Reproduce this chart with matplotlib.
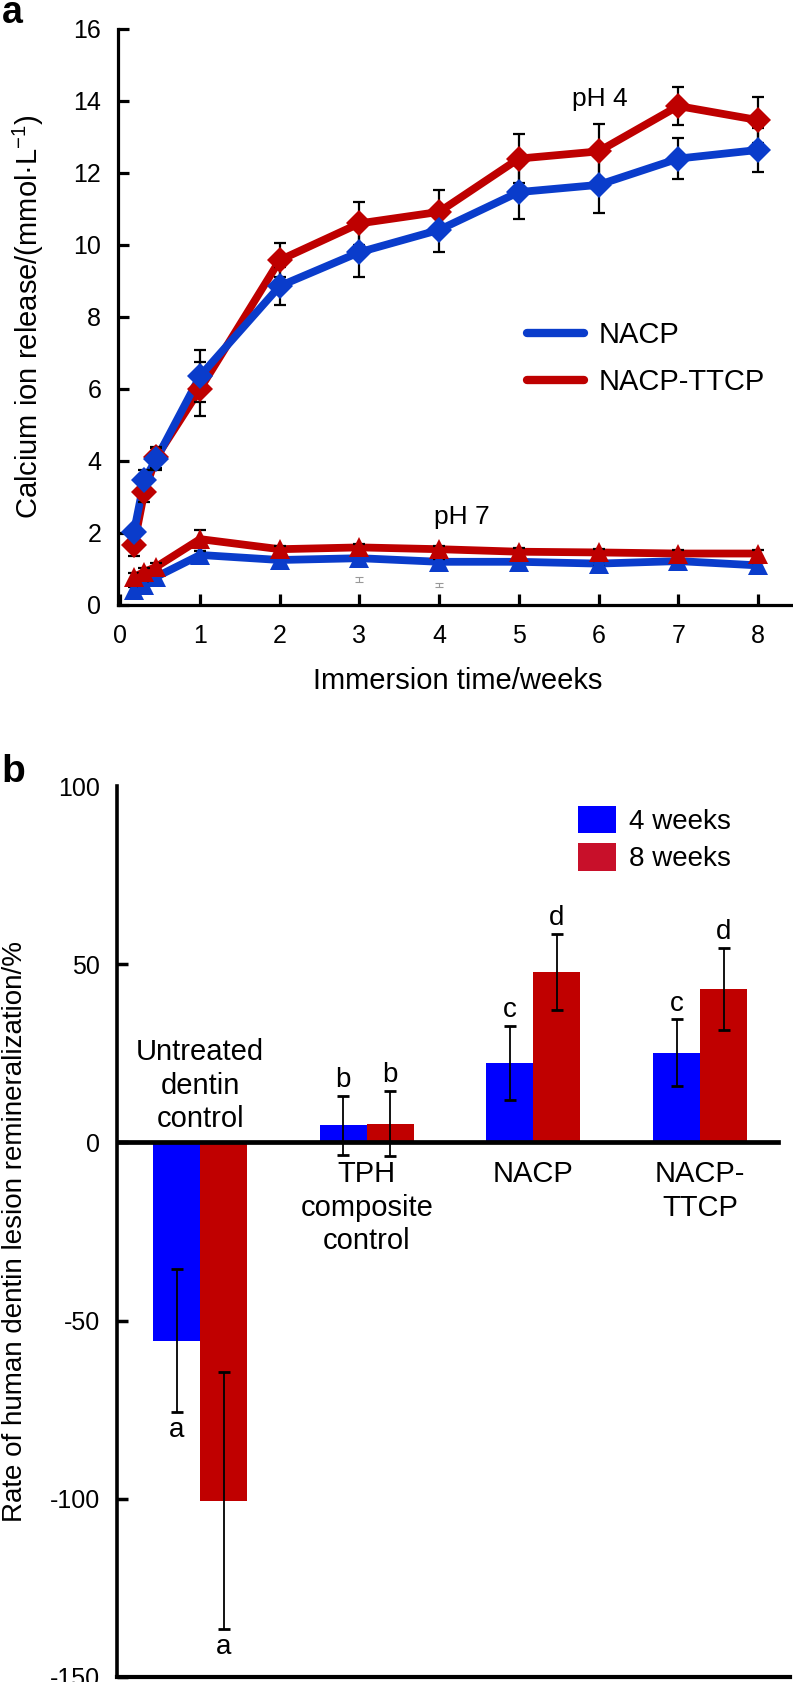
import matplotlib
matplotlib.use('Agg')
import matplotlib.pyplot as plt
from matplotlib.lines import Line2D
from matplotlib.patches import Patch
import numpy as np

plt.rcParams['font.family'] = ['Liberation Sans', 'DejaVu Sans']
plt.rcParams['mathtext.fontset'] = 'custom'
plt.rcParams['mathtext.rm'] = 'Liberation Sans'
plt.rcParams['mathtext.it'] = 'Liberation Sans:italic'
plt.rcParams['mathtext.default'] = 'rm'
plt.rcParams['axes.unicode_minus'] = False

# ---------------- Panel a data ----------------
weeks = [0.17, 0.3, 0.45, 1, 2, 3, 4, 5, 6, 7, 8]
nacp_ph4 = [2.03, 3.47, 4.05, 6.36, 8.86, 9.8, 10.42, 11.47, 11.67, 12.4, 12.64]
nacp_ph4_err = [0.15, 0.28, 0.3, 0.72, 0.54, 0.7, 0.62, 0.74, 0.79, 0.57, 0.61]
ttcp_ph4 = [1.67, 3.14, 4.1, 6.0, 9.58, 10.6, 10.92, 12.4, 12.6, 13.86, 13.47]
ttcp_ph4_err = [0.3, 0.28, 0.3, 0.75, 0.47, 0.6, 0.61, 0.67, 0.76, 0.54, 0.65]
nacp_ph7 = [0.42, 0.55, 0.78, 1.39, 1.25, 1.3, 1.2, 1.2, 1.15, 1.22, 1.1]
nacp_ph7_err = [0.08, 0.08, 0.1, 0.1, 0.08, 0.08, 0.08, 0.08, 0.08, 0.08, 0.08]
ttcp_ph7 = [0.78, 0.92, 1.06, 1.83, 1.55, 1.6, 1.55, 1.48, 1.46, 1.43, 1.43]
ttcp_ph7_err = [0.1, 0.1, 0.1, 0.25, 0.1, 0.1, 0.1, 0.1, 0.1, 0.1, 0.1]
stray_x = [3, 4]
stray_y = [0.7, 0.55]
stray_err = [0.07, 0.05]
line_labels = ['NACP', 'NACP-TTCP']

# ---------------- Panel b data ----------------
groups = ['Untreated\ndentin\ncontrol', 'TPH\ncomposite\ncontrol', 'NACP', 'NACP-\nTTCP']
w4 = [-55.6, 4.8, 22.3, 25.1]
w4_err = [20.0, 8.3, 10.3, 9.4]
w8 = [-100.5, 5.3, 47.8, 43.0]
w8_err = [36.0, 9.2, 10.6, 11.5]
w4_letters = ['a', 'b', 'c', 'c']
w8_letters = ['a', 'b', 'd', 'd']
bar_labels = ['4 weeks', '8 weeks']

BLUE_L = '#0A3CCB'
RED_L = '#BE0000'
BLUE_B = '#0000FF'
RED_B = '#C00000'

W, H = 793, 1682
fig = plt.figure(figsize=(W / 100, H / 100), dpi=100)

# ================= Panel a =================
ax1 = fig.add_axes([118 / W, 1 - 605 / H, 675 / W, 576 / H])
ax1.set_xlim(-0.03, 8.44)
ax1.set_ylim(0, 16)
for s in ['top', 'right']:
    ax1.spines[s].set_visible(False)
for s in ['left', 'bottom']:
    ax1.spines[s].set_linewidth(2.3)

series = [
    (ttcp_ph4, ttcp_ph4_err, RED_L, 'D'),
    (nacp_ph4, nacp_ph4_err, BLUE_L, 'D'),
    (nacp_ph7, nacp_ph7_err, BLUE_L, '^'),
    (ttcp_ph7, ttcp_ph7_err, RED_L, '^'),
]
for i, (y, e, c, m) in enumerate(series):
    ax1.plot(weeks, y, color=c, lw=5.6, zorder=2 + i * 0.01, solid_capstyle='round',
             solid_joinstyle='round')
    ax1.errorbar(weeks, y, yerr=e, fmt='none', ecolor='black', elinewidth=1.6,
                 capsize=4.5, capthick=1.6, zorder=3)
    ms = 13 if m == 'D' else 15
    ax1.plot(weeks, y, linestyle='none', marker=m, ms=ms, color=c,
             markeredgewidth=0, zorder=4 + i * 0.01)

ax1.errorbar(stray_x, stray_y, yerr=stray_err, fmt='none', ecolor='#999999',
             elinewidth=0.8, capsize=3, capthick=0.8, zorder=3)

ax1.set_xticks(range(0, 9))
ax1.set_yticks(range(0, 17, 2))
ax1.tick_params(axis='both', direction='in', length=8, width=2.3, labelsize=18)
ax1.tick_params(axis='x', pad=14)
ax1.tick_params(axis='y', pad=12)

ax1.text(6.02, 14.05, 'pH 4', ha='center', va='center', fontsize=19)
ax1.text(4.28, 2.44, 'pH 7', ha='center', va='center', fontsize=19)

handles = [Line2D([], [], color=BLUE_L, lw=6, solid_capstyle='round'),
           Line2D([], [], color=RED_L, lw=6, solid_capstyle='round')]
ax1.legend(handles, line_labels, loc='upper left', bbox_to_anchor=(0.606, 0.493),
           frameon=False, fontsize=21, handlelength=1.95, handletextpad=0.5,
           labelspacing=0.65, borderpad=0, borderaxespad=0)

fig.text(28 / W, 1 - 317 / H, r'Calcium ion release/(mmol·L$^{-1}$)', rotation=90,
         ha='center', va='center', fontsize=21)
fig.text(458 / W, 1 - 681 / H, 'Immersion time/weeks', ha='center', va='center',
         fontsize=21)
fig.text(0.002, 1 - 23 / H, 'a', fontsize=27, fontweight='bold', ha='left',
         va='baseline')

# ================= Panel b =================
ax2 = fig.add_axes([117 / W, 1 - 1677 / H, 673 / W, 891 / H])
ax2.set_xlim(0.5, 4.54)
ax2.set_ylim(-150, 100)
for s in ['top', 'right']:
    ax2.spines[s].set_visible(False)
ax2.spines['left'].set_linewidth(2.6)
ax2.spines['bottom'].set_linewidth(3.0)

x = np.arange(1, len(groups) + 1)
bw = 0.282
ax2.bar(x - bw / 2, w4, width=bw, color=BLUE_B, linewidth=0, zorder=2)
ax2.bar(x + bw / 2, w8, width=bw, color=RED_B, linewidth=0, zorder=2)
ax2.errorbar(x - bw / 2, w4, yerr=w4_err, fmt='none', ecolor='black', elinewidth=1.3,
             capsize=4, capthick=2, zorder=4)
ax2.errorbar(x + bw / 2, w8, yerr=w8_err, fmt='none', ecolor='black', elinewidth=1.3,
             capsize=4, capthick=2, zorder=4)
ax2.axhline(0, xmin=0, xmax=(778 - 117) / 673, color='black', lw=3.4, zorder=5)

for xs, vals, errs, lets in [(x - bw / 2, w4, w4_err, w4_letters),
                             (x + bw / 2, w8, w8_err, w8_letters)]:
    for xi, v, e, l in zip(xs, vals, errs, lets):
        if v >= 0:
            ax2.annotate(l, (xi, v + e), xytext=(0, 2), textcoords='offset points',
                         ha='center', va='bottom', fontsize=20)
        else:
            ax2.annotate(l, (xi, v - e), xytext=(0, -4), textcoords='offset points',
                         ha='center', va='top', fontsize=20)

for xi, g, v in zip(x, groups, w4):
    if v < 0:
        ax2.annotate(g, (xi, 0), xytext=(0, 6.5), textcoords='offset points',
                     ha='center', va='bottom', fontsize=21, linespacing=1.25)
    else:
        ax2.annotate(g, (xi, 0), xytext=(0, -13), textcoords='offset points',
                     ha='center', va='top', fontsize=21, linespacing=1.25)

ax2.set_xticks([])
ax2.set_yticks([100, 50, 0, -50, -100, -150])
ax2.tick_params(axis='y', direction='in', length=8, width=2.5, labelsize=18, pad=12)
ax2.yaxis.get_major_ticks()[0].tick1line.set_visible(False)

bhandles = [Patch(facecolor=BLUE_B, edgecolor='none'),
            Patch(facecolor='#C8102A', edgecolor='none')]
ax2.legend(bhandles, bar_labels, loc='upper left', bbox_to_anchor=(0.685, 0.978),
           frameon=False, fontsize=20, handlelength=1.35, handleheight=1.15,
           handletextpad=0.5, labelspacing=0.3, borderpad=0, borderaxespad=0)

fig.text(15 / W, 1 - 1231 / H, 'Rate of human dentin lesion remineralization/%',
         rotation=90, ha='center', va='center', fontsize=20)
fig.text(0.002, 1 - 782 / H, 'b', fontsize=28, fontweight='bold', ha='left',
         va='baseline')

fig.savefig('out.png', dpi=100)
